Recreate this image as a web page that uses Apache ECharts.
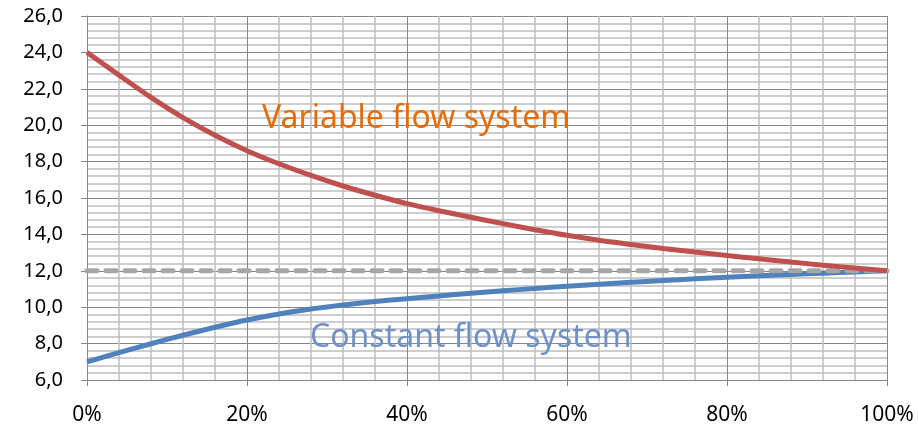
<!DOCTYPE html>
<html>
<head>
<meta charset="utf-8">
<script src="https://cdn.jsdelivr.net/npm/echarts@6/dist/echarts.min.js"></script>
<style>
html,body{margin:0;padding:0;background:#fff;}
#chart{width:918px;height:437px;}
</style>
</head>
<body>
<div id="chart"></div>
<script>
// Load fraction (%) at which values are read
var loadPct = [0, 4, 8, 12, 16, 20, 24, 28, 32, 36, 40, 44, 48, 52, 56, 60, 64, 68, 72, 76, 80, 84, 88, 92, 96, 100];
// Variable flow system
var variableFlow = [24.0, 22.75, 21.53, 20.42, 19.45, 18.6, 17.88, 17.24, 16.66, 16.15, 15.69, 15.3, 14.94, 14.59, 14.26, 13.95, 13.68, 13.45, 13.23, 13.03, 12.84, 12.66, 12.48, 12.31, 12.15, 12.0];
// Constant flow system
var constantFlow = [7.0, 7.5, 7.99, 8.46, 8.9, 9.3, 9.63, 9.9, 10.12, 10.31, 10.47, 10.62, 10.765, 10.9, 11.03, 11.15, 11.26, 11.365, 11.465, 11.56, 11.65, 11.73, 11.8, 11.87, 11.935, 12.0];
// Reference level (dashed)
var refX = [0, 100];
var refLevel = [12, 12];
// Axis settings
var yMin = 6, yMax = 26, yStep = 2;
var xMin = 0, xMax = 100, xStep = 20;
var labelVariable = 'Variable flow system';
var labelConstant = 'Constant flow system';

function pairs(xs, ys) { return xs.map(function (x, i) { return [x, ys[i]]; }); }

var chart = echarts.init(document.getElementById('chart'), null, {renderer: 'canvas'});
var font = '"Noto Sans", "Open Sans", sans-serif';
chart.setOption({
  animation: false,
  backgroundColor: '#ffffff',
  grid: {left: 87, right: 31, top: 16, bottom: 57, containLabel: false},
  xAxis: {
    type: 'value', min: xMin, max: xMax, interval: xStep,
    axisLine: {show: true, lineStyle: {color: '#868686', width: 1}},
    axisTick: {show: true, length: 6, lineStyle: {color: '#868686'}},
    minorTick: {show: false, splitNumber: 5},
    splitLine: {show: true, lineStyle: {color: '#868686', width: 1}},
    minorSplitLine: {show: true, lineStyle: {color: '#bdbdbd', width: 1.5}},
    axisLabel: {
      margin: 25, color: '#000', fontSize: 21, fontFamily: font,
      formatter: function (v) { return v + '%'; }
    }
  },
  yAxis: {
    type: 'value', min: yMin, max: yMax, interval: yStep,
    axisLine: {show: true, lineStyle: {color: '#868686', width: 1}},
    axisTick: {show: true, length: 6, lineStyle: {color: '#868686'}},
    minorTick: {show: false, splitNumber: 5},
    splitLine: {show: true, lineStyle: {color: '#868686', width: 1}},
    minorSplitLine: {show: true, lineStyle: {color: '#bdbdbd', width: 1.5}},
    axisLabel: {
      margin: 24, color: '#000', fontSize: 20, fontFamily: font,
      padding: [8, 0, 0, 0],
      formatter: function (v) { return v.toFixed(1).replace('.', ','); }
    }
  },
  series: [
    {
      name: 'Constant', type: 'line', data: pairs(loadPct, constantFlow),
      smooth: 0.3, symbol: 'none', z: 3,
      lineStyle: {color: '#4F81BD', width: 5}
    },
    {
      name: 'Reference', type: 'line', data: pairs(refX, refLevel),
      symbol: 'none', z: 4,
      lineStyle: {color: '#A6A6A6', width: 5, type: [10, 9], cap: 'round'}
    },
    {
      name: 'Variable', type: 'line', data: pairs(loadPct, variableFlow),
      smooth: 0.3, symbol: 'none', z: 5,
      lineStyle: {color: '#C0504D', width: 5}
    }
  ],
  graphic: [
    {
      type: 'text', left: 262, top: 103, z: 10,
      style: {text: labelVariable, fill: '#E46C0A', font: '32px ' + font}
    },
    {
      type: 'text', left: 310, top: 322, z: 10,
      style: {text: labelConstant, fill: '#6F91C6', font: '32px ' + font}
    }
  ]
});
</script>
</body>
</html>
